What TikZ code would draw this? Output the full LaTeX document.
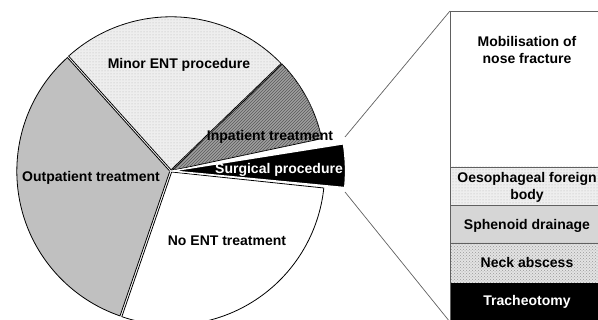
\documentclass[tikz,border=0pt]{standalone}
\usepackage{fontspec}
\setmainfont{Liberation Sans}
\usetikzlibrary{patterns,calc}
\definecolor{outgray}{HTML}{C0C0C0}
\definecolor{sphgray}{HTML}{D6D6D6}
\definecolor{inpgray}{HTML}{9E9E9E}
\definecolor{linegray}{HTML}{606060}
\tikzset{
  wedgeline/.style={draw=black, line width=0.8pt},
  minorfill/.style={wedgeline, fill=gray!13, postaction={pattern=dots, pattern color=gray!60}},
  inpfill/.style={wedgeline, fill=inpgray, postaction={pattern=north east lines, pattern color=black!65}},
  outfill/.style={wedgeline, fill=outgray},
  nonefill/.style={wedgeline, fill=white},
  surgfill/.style={fill=black, draw=white, line width=1.3pt},
  lbl/.style={font=\fontsize{14}{17}\selectfont\bfseries, inner sep=0pt, align=center},
  seg/.style={draw=linegray, line width=0.7pt},
  zoomline/.style={draw=linegray, line width=0.7pt}
}
\newcommand{\pwedge}[5]{% style, a1, a2, radius, offset
  \path[#1] ($(C)+({(#2+#3)/2}:#5)$) -- ++(#2:#4) arc[start angle=#2, end angle=#3, radius=#4] -- cycle;}
\begin{document}
\begin{tikzpicture}[x=1pt,y=1pt]
\useasboundingbox (0,0) rectangle (598,320);
\clip (0,0) rectangle (598,320);
\coordinate (C) at (171,149);
% pie wedges
\pwedge{outfill}{132}{251}{153}{1.2}
\pwedge{nonefill}{251}{354}{153}{1.2}
\pwedge{minorfill}{44}{132}{153}{1.2}
\pwedge{inpfill}{12}{44}{153}{1.2}
\pwedge{surgfill}{-5.5}{9}{173}{1.5}
% zoom box
\coordinate (bTL) at (450,309);
\coordinate (b1) at (450,153);
\coordinate (b2) at (450,115);
\coordinate (b3) at (450,77);
\coordinate (b4) at (450,37);
\coordinate (bBL) at (450,-2);
\fill[white] (bTL) rectangle (605,153);
\fill[gray!13, postaction={pattern=dots, pattern color=gray!60}] (b1) rectangle (605,115);
\fill[sphgray] (b2) rectangle (605,77);
\fill[gray!22, postaction={pattern=crosshatch dots, pattern color=gray!80}] (b3) rectangle (605,37);
\fill[black] (b4) rectangle (605,-2);
\draw[seg] (bBL) -- (bTL) -- (605,309);
\draw[seg] (b1) -- (605,153);
\draw[seg] (b2) -- (605,115);
\draw[seg] (b3) -- (605,77);
% connectors
\coordinate (zU) at (345,183);
\coordinate (zL) at (345,128);
\draw[zoomline] (zU) -- (bTL);
\draw[zoomline] (zL) -- (bBL);
% labels
\node[lbl] (tminor) at (179,255) {Minor ENT procedure};
\node[lbl] (tinp) at (270,183) {Inpatient treatment};
\node[lbl, text=white] (tsurg) at (279,150) {Surgical procedure};
\node[lbl] (tout) at (91,142) {Outpatient treatment};
\node[lbl] (tnone) at (227,79) {No ENT treatment};
\node[lbl] (tmob) at (527,270) {Mobilisation of\\nose fracture};
\node[lbl] (toes) at (527,133) {Oesophageal foreign\\body};
\node[lbl] (tsph) at (527,94) {Sphenoid drainage};
\node[lbl] (tneck) at (527,57) {Neck abscess};
\node[lbl, text=white] (ttrach) at (527,18) {Tracheotomy};
\end{tikzpicture}
\end{document}
